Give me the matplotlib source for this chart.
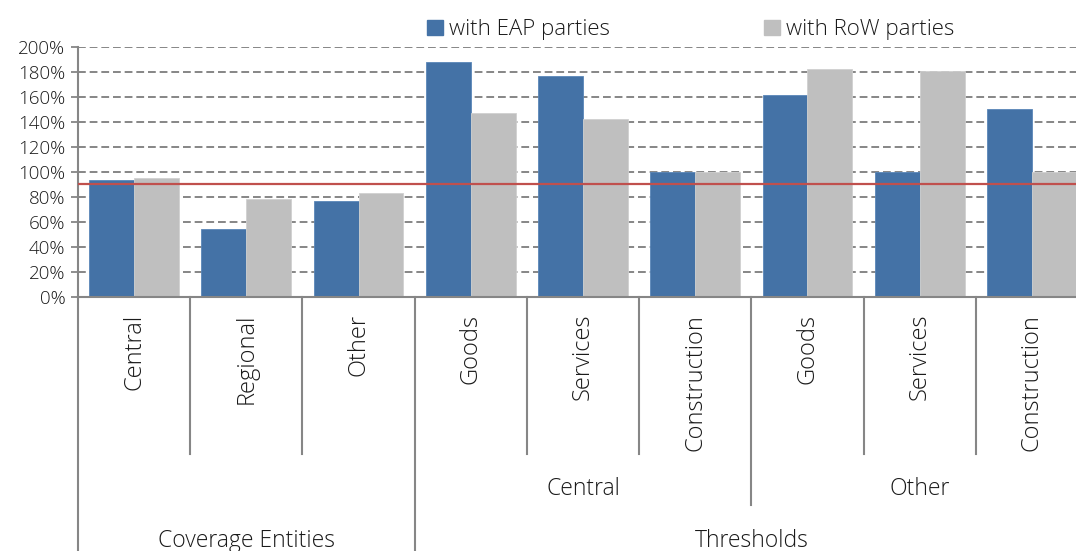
"""Grouped bars of coverage and thresholds relative to benchmark, EAP vs RoW."""
import matplotlib

matplotlib.use("Agg")
import matplotlib.pyplot as plt
from matplotlib.patches import Patch
from matplotlib.ticker import FuncFormatter

plt.rcParams["font.family"] = ["Open Sans", "DejaVu Sans"]
plt.rcParams["font.weight"] = "light"

# Data (percent)
categories = ["Central", "Regional", "Other",
              "Goods", "Services", "Construction",
              "Goods", "Services", "Construction"]
eap_values = [93.4, 54.5, 76.8, 188.0, 176.4, 100.0, 161.4, 100.0, 150.0]
row_values = [95.4, 78.7, 83.2, 146.8, 142.0, 100.0, 182.2, 181.0, 100.0]
benchmark = 90.7

# Group labels: (label, first index, last index)
sub_groups = [("Central", 3, 5), ("Other", 6, 8)]
top_groups = [("Coverage Entities", 0, 2), ("Thresholds", 3, 8)]

BLUE = "#4472A6"
GREY = "#BFBFBF"
RED = "#C0504D"
AXIS = "#868686"
TEXT = "#1a1a1a"

W, H = 1076, 551
fig = plt.figure(figsize=(W / 100, H / 100), dpi=100)
left, right, top, bottom = 78, 1088, 46.7, 297.3
ax = fig.add_axes([left / W, 1 - bottom / H, (right - left) / W, (bottom - top) / H])

x = list(range(len(categories)))
bw = 0.4
ax.bar([i - bw / 2 for i in x], eap_values, width=bw, color=BLUE,
       edgecolor="#5a86b8", linewidth=0.6, zorder=2)
ax.bar([i + bw / 2 for i in x], row_values, width=bw, color=GREY,
       edgecolor="#d0d0d0", linewidth=0.6, zorder=2)
ax.axhline(benchmark, color=RED, linewidth=1.6, zorder=3)

ax.set_xlim(-0.5, len(categories) - 0.5)
ax.set_ylim(0, 200)
ax.set_yticks(range(0, 201, 20))
ax.yaxis.set_major_formatter(FuncFormatter(lambda v, _: f"{v:.0f}%"))
ax.tick_params(axis="y", length=5, width=1.3, color=AXIS, labelsize=13.5,
               labelcolor=TEXT, pad=4)
ax.set_xticks([])
ax.yaxis.grid(True, color=AXIS, linestyle=(0, (4, 2)), linewidth=1.4, zorder=0)
ax.set_axisbelow(True)

for side in ("top", "right"):
    ax.spines[side].set_visible(False)
for side in ("left", "bottom"):
    ax.spines[side].set_color(AXIS)
    ax.spines[side].set_linewidth(1.5)

# Multi-level category axis drawn beneath the plot
ph = bottom - top


def frac(ypix):
    return (bottom - ypix) / ph


trans = ax.get_xaxis_transform()
line_kw = dict(color=AXIS, linewidth=1.5, transform=trans, clip_on=False)

ax.plot([-0.5, -0.5], [0, frac(H + 5)], **line_kw)
for i in x[:-1]:
    b = i + 0.5
    if b == 2.5:
        ax.plot([b, b], [0, frac(H + 5)], **line_kw)
    elif b == 5.5:
        ax.plot([b, b], [0, frac(505)], **line_kw)
    else:
        ax.plot([b, b], [0, frac(454)], **line_kw)
ax.plot([len(categories) - 0.5] * 2, [0, frac(454)], **line_kw)

for i, name in enumerate(categories):
    ax.text(i, frac(314), name, rotation=90, ha="center", va="top",
            fontsize=17, color=TEXT, transform=trans)

for name, a, b in sub_groups:
    ax.text((a + b) / 2, frac(489), name, ha="center", va="center",
            fontsize=16.5, color=TEXT, transform=trans)
for name, a, b in top_groups:
    ax.text((a + b) / 2, frac(541), name, ha="center", va="center",
            fontsize=16.5, color=TEXT, transform=trans)

handles = [Patch(color=BLUE, label="with EAP parties"),
           Patch(color=GREY, label="with RoW parties")]
fig.legend(handles=handles, loc="center", bbox_to_anchor=(0.642, 0.946),
           ncol=2, frameon=False, fontsize=16, handlelength=0.72,
           handleheight=0.72, handletextpad=0.3, columnspacing=6.9,
           labelcolor=TEXT)

fig.savefig("out.png", dpi=100)
